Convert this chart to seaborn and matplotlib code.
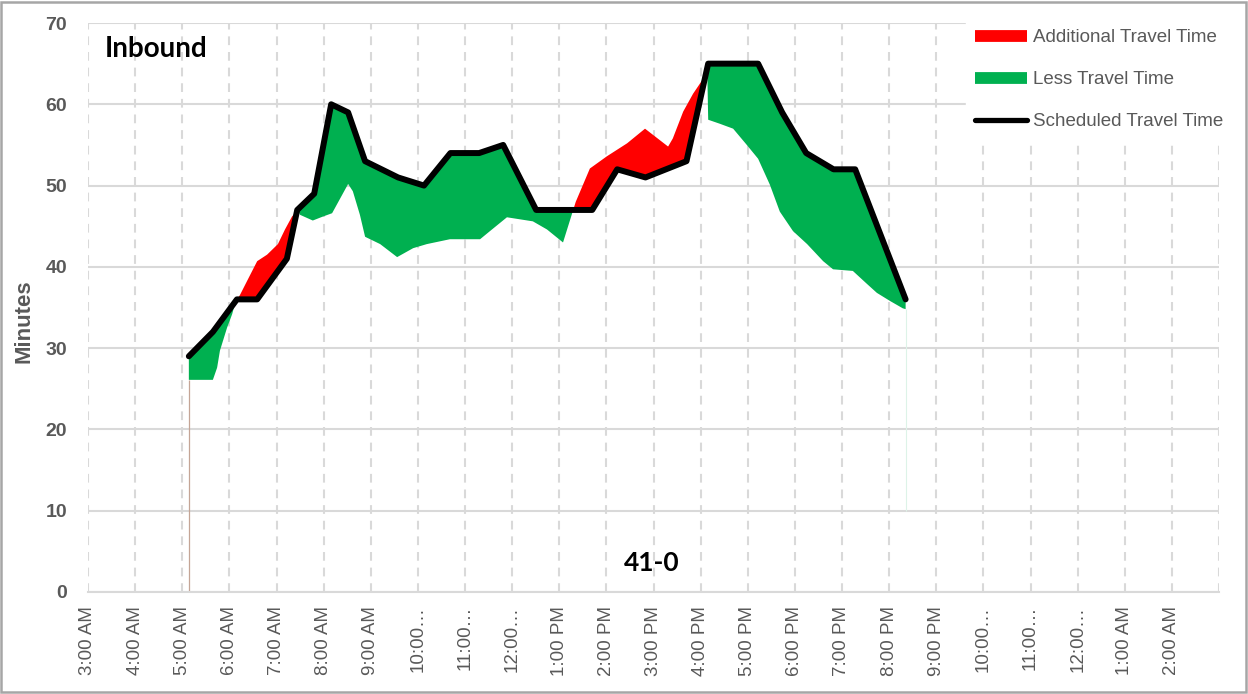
import numpy as np
import matplotlib
matplotlib.use("Agg")
import matplotlib.pyplot as plt
from matplotlib.lines import Line2D
from matplotlib.patches import Rectangle
import seaborn as sns

# ---------------- data ----------------
tick_hours = list(range(3, 28))
tick_labels = ["3:00 AM", "4:00 AM", "5:00 AM", "6:00 AM", "7:00 AM", "8:00 AM",
               "9:00 AM", "10:00…", "11:00…", "12:00…", "1:00 PM", "2:00 PM",
               "3:00 PM", "4:00 PM", "5:00 PM", "6:00 PM", "7:00 PM", "8:00 PM",
               "9:00 PM", "10:00…", "11:00…", "12:00…", "1:00 AM", "2:00 AM", ""]

# scheduled travel time (hour of day, minutes)
sched_time = [5.14, 5.65, 6.16, 6.59, 7.22, 7.44, 7.80, 8.16, 8.52, 8.88, 9.58,
              10.13, 10.69, 11.30, 11.81, 12.51, 13.70, 14.23, 14.83, 15.70,
              16.16, 17.22, 17.73, 18.24, 18.82, 19.28, 20.35]
sched_min = [29, 32, 36, 36, 41, 47, 49, 60, 59, 53, 51,
             50, 54, 54, 55, 47, 47, 52, 51, 53,
             65, 65, 59, 54, 52, 52, 36]

# actual (observed) travel time
actual_time = [5.14, 5.65, 5.74, 5.80, 5.95, 6.06, 6.12, 6.23, 6.37, 6.59, 6.80,
               7.03, 7.18, 7.33, 7.46, 7.50, 7.77, 7.99, 8.18, 8.35, 8.52, 8.62,
               8.77, 8.88, 9.20, 9.56, 9.90, 10.19, 10.68, 11.32, 11.53, 11.89,
               12.44, 12.74, 13.08, 13.35, 13.65, 14.01, 14.44, 14.82, 15.31,
               15.41, 15.63, 15.84, 16.05, 16.14, 16.16, 16.41, 16.69, 16.98,
               17.22, 17.47, 17.68, 17.96, 18.26, 18.60, 18.81, 19.23, 19.53,
               19.74, 20.02, 20.29, 20.35]
actual_min = [26.1, 26.1, 27.6, 29.7, 32.5, 34.2, 35.5, 36.6, 38.2, 40.7, 41.5,
              42.8, 44.6, 46.2, 47.0, 46.4, 45.7, 46.2, 46.6, 48.4, 50.2, 49.3,
              46.4, 43.7, 42.8, 41.2, 42.3, 42.8, 43.4, 43.4, 44.4, 46.1,
              45.6, 44.6, 43.0, 48.0, 52.1, 53.6, 55.2, 57.0, 54.8,
              55.8, 59.1, 61.3, 63.1, 64.6, 58.1, 57.6, 57.0, 55.0,
              53.3, 50.1, 46.8, 44.4, 42.8, 40.7, 39.7, 39.5, 37.9,
              36.8, 35.8, 34.9, 34.8]

direction = "Inbound"
route = "41-0"
legend_labels = ["Additional Travel Time", "Less Travel Time", "Scheduled Travel Time"]

RED = "#FF0000"
GREEN = "#00B050"
GRID = "#D9D9D9"
TXT = "#595959"

# ---------------- figure ----------------
sns.set_theme(style="white")
plt.rcParams["font.family"] = ["Liberation Sans", "DejaVu Sans"]

fig = plt.figure(figsize=(12.48, 6.94), dpi=100)
ax = fig.add_axes([88 / 1248, 1 - 592 / 694, (1219 - 88) / 1248, (592 - 23) / 694])

grid_t = np.linspace(sched_time[0], sched_time[-1], 3000)
s_vals = np.interp(grid_t, sched_time, sched_min)
a_vals = np.interp(grid_t, actual_time, actual_min)

ax.fill_between(grid_t, s_vals, a_vals, where=a_vals >= s_vals, interpolate=True,
                color=RED, lw=0, zorder=2)
ax.fill_between(grid_t, s_vals, a_vals, where=a_vals <= s_vals, interpolate=True,
                color=GREEN, lw=0, zorder=2)

# thin drop lines at the start and end of service (area chart artefacts)
ax.vlines(actual_time[0], 0, actual_min[0], color="#C4A596", lw=0.9, zorder=2)
ax.vlines(actual_time[-1], 10, actual_min[-1], color="#DDF3E8", lw=0.8, zorder=2)

sns.lineplot(x=sched_time, y=sched_min, ax=ax, color="black", lw=4.3,
             sort=False, estimator=None, zorder=4, legend=False)
for ln in ax.lines:
    ln.set_solid_joinstyle("round")
    ln.set_solid_capstyle("round")

ax.set_xlim(3, 27)
ax.set_ylim(0, 70)
ax.set_xticks(tick_hours)
ax.set_xticklabels(tick_labels, rotation=90, fontsize=13.5, color=TXT)
ax.set_yticks(range(0, 71, 10))
ax.set_yticklabels([str(v) for v in range(0, 71, 10)], fontsize=14,
                   fontweight="bold", color=TXT)
ax.tick_params(axis="both", length=0)
ax.tick_params(axis="x", pad=10)
ax.tick_params(axis="y", pad=15)

ax.set_axisbelow(True)
ax.grid(axis="y", color=GRID, lw=1.5, linestyle="-")
ax.grid(axis="x", color=GRID, lw=1.5, linestyle=(0, (4.2, 3.3)))
for side in ["left", "right", "top"]:
    ax.spines[side].set_visible(False)
ax.spines["bottom"].set_color(GRID)
ax.spines["bottom"].set_linewidth(1.5)

ax.set_xlabel("")
ax.set_ylabel("Minutes", fontsize=16, fontweight="bold", color=TXT)
ax.yaxis.set_label_coords(-0.047, 0.476)

ax.text(0.015, 66.8, direction, transform=ax.get_yaxis_transform(),
        fontsize=20, fontweight="bold", color="black", va="center", ha="left",
        family=["Lato", "DejaVu Sans"])
ax.text(14.97, 3.6, route, fontsize=19, fontweight="bold", color="black",
        va="center", ha="center", family=["Lato", "DejaVu Sans"])

handles = [Line2D([0], [0], color=RED, lw=8.5, solid_capstyle="butt"),
           Line2D([0], [0], color=GREEN, lw=8.5, solid_capstyle="butt"),
           Line2D([0], [0], color="black", lw=3.8, solid_capstyle="round")]
leg = ax.legend(handles, legend_labels, loc="upper left",
                bbox_to_anchor=(966 / 1248, 1 - 20 / 694), bbox_transform=fig.transFigure,
                borderaxespad=0, borderpad=0.5, frameon=True, fancybox=False,
                facecolor="white", edgecolor="white", framealpha=1,
                handlelength=2.75, handletextpad=0.3, labelspacing=1.32,
                prop={"family": ["Liberation Sans", "DejaVu Sans"], "size": 13.5})
for t in leg.get_texts():
    t.set_color(TXT)
leg.set_zorder(5)

fig.patches.append(Rectangle((1 / 1248, 2 / 694), 1245 / 1248, 690 / 694,
                             transform=fig.transFigure, fill=False,
                             edgecolor="#A6A6A6", lw=1.8, zorder=10))

fig.savefig("out.png", dpi=100, facecolor="white")
